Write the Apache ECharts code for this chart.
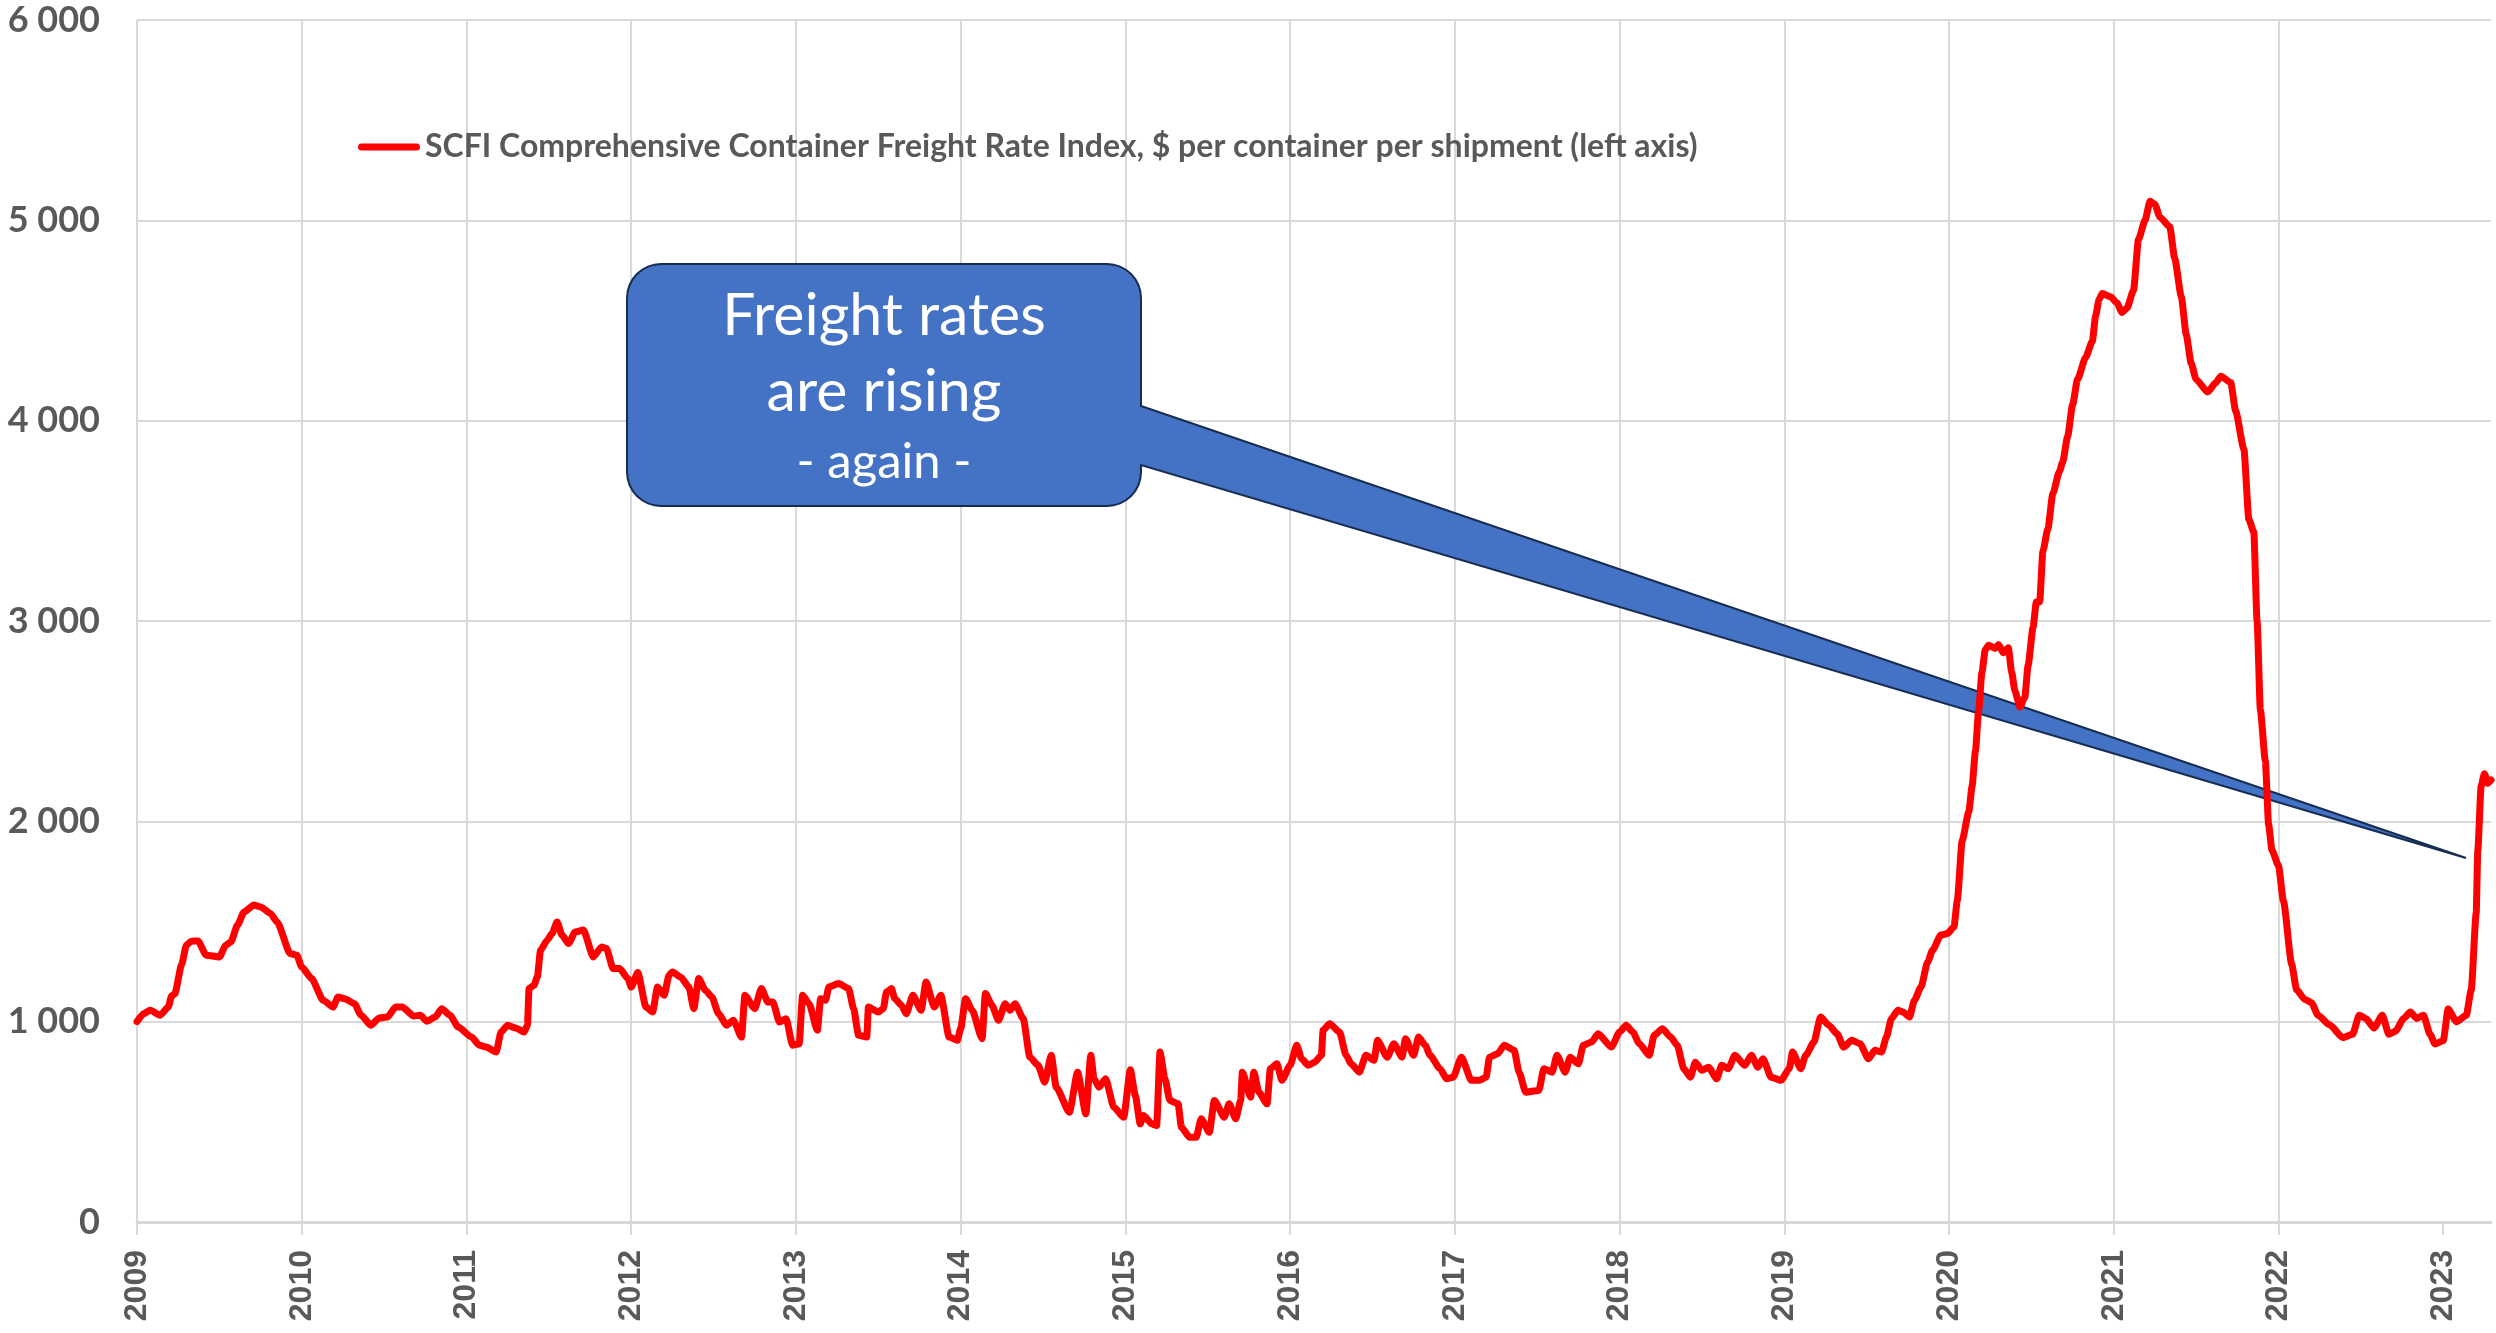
<!DOCTYPE html>
<html>
<head>
<meta charset="utf-8">
<title>SCFI freight rate index</title>
<script src="https://cdn.jsdelivr.net/npm/echarts@6/dist/echarts.min.js"></script>
<style>
  html, body { margin: 0; padding: 0; background: #fff; }
  #chart { width: 2496px; height: 1333px; }
</style>
</head>
<body>
<div id="chart"></div>
<script>
// year ticks on the x axis
var yearTicks = [2009, 2010, 2011, 2012, 2013, 2014, 2015, 2016, 2017, 2018, 2019, 2020, 2021, 2022, 2023];
var lastWeek = 2023.29;
var yMin = 0, yMax = 6000, yStep = 1000;

var legendLabel = 'SCFI Comprehensive Container Freight Rate Index, $ per container per shipment (left axis)';
var calloutLines = ['Freight rates', 'are rising', '- again -'];

// [year (decimal), $ per container]
var scfiPoints = [
  [2009.00,1000],[2009.04,1040],[2009.08,1057],[2009.14,1032],[2009.19,1073],[2009.21,1128],[2009.23,1140],
  [2009.27,1282],[2009.30,1382],[2009.33,1402],[2009.37,1403],[2009.42,1332],[2009.50,1323],[2009.54,1382],
  [2009.57,1398],[2009.61,1482],[2009.65,1548],[2009.71,1582],[2009.75,1573],[2009.81,1540],[2009.85,1498],
  [2009.93,1340],[2009.97,1332],
  [2010.00,1273],[2010.06,1215],[2010.13,1107],[2010.19,1073],[2010.22,1123],[2010.26,1115],[2010.32,1090],
  [2010.36,1032],[2010.42,982],[2010.47,1018],[2010.52,1023],[2010.57,1073],[2010.61,1073],[2010.68,1028],
  [2010.72,1032],[2010.76,1002],[2010.81,1023],[2010.85,1065],[2010.90,1032],[2010.95,973],
  [2011.03,923],[2011.08,882],[2011.12,873],[2011.18,848],[2011.21,948],[2011.25,982],[2011.30,968],
  [2011.35,948],[2011.37,982],[2011.38,1165],[2011.41,1182],[2011.43,1223],[2011.45,1357],[2011.49,1407],
  [2011.52,1440],[2011.55,1498],[2011.58,1432],[2011.62,1390],[2011.66,1448],[2011.71,1457],[2011.77,1323],
  [2011.82,1373],[2011.85,1365],[2011.89,1265],[2011.93,1265],[2011.98,1215],
  [2012.00,1173],[2012.04,1245],[2012.09,1073],[2012.13,1048],[2012.16,1173],[2012.20,1132],[2012.23,1232],
  [2012.25,1248],[2012.30,1223],[2012.35,1173],[2012.38,1065],[2012.41,1215],[2012.45,1157],[2012.49,1123],
  [2012.53,1040],[2012.58,982],[2012.62,1007],[2012.67,923],[2012.69,1132],[2012.75,1065],[2012.79,1165],
  [2012.83,1098],[2012.86,1098],[2012.90,998],[2012.94,1015],[2012.98,882],
  [2013.02,890],[2013.04,1132],[2013.08,1090],[2013.13,957],[2013.15,1115],[2013.18,1107],[2013.20,1173],
  [2013.26,1190],[2013.32,1165],[2013.35,1065],[2013.38,932],[2013.43,923],[2013.44,1073],[2013.50,1048],
  [2013.53,1065],[2013.55,1148],[2013.58,1165],[2013.60,1115],[2013.64,1082],[2013.67,1040],[2013.71,1132],
  [2013.76,1057],[2013.79,1198],[2013.84,1073],[2013.88,1132],[2013.93,923],[2013.98,907],
  [2014.00,965],[2014.03,1115],[2014.07,1057],[2014.13,915],[2014.15,1140],[2014.19,1082],[2014.23,1007],
  [2014.27,1090],[2014.30,1057],[2014.33,1090],[2014.38,1015],[2014.42,823],[2014.47,782],[2014.51,698],
  [2014.55,832],[2014.58,673],[2014.66,548],[2014.71,748],[2014.76,540],[2014.79,832],[2014.81,715],
  [2014.84,673],[2014.88,715],[2014.93,573],[2014.99,523],
  [2015.03,760],[2015.06,632],[2015.09,490],[2015.11,532],[2015.16,490],[2015.19,482],[2015.21,848],
  [2015.24,715],[2015.27,607],[2015.32,590],[2015.34,473],[2015.39,423],[2015.43,423],[2015.46,515],
  [2015.51,448],[2015.54,607],[2015.60,523],[2015.63,590],[2015.67,515],[2015.70,607],[2015.71,748],
  [2015.76,623],[2015.78,748],[2015.81,648],[2015.86,590],[2015.88,765],[2015.92,790],[2015.95,707],
  [2016.00,782],[2016.04,882],[2016.07,815],[2016.11,782],[2016.15,798],[2016.19,832],[2016.20,957],
  [2016.24,990],[2016.30,948],[2016.34,832],[2016.37,790],[2016.42,748],[2016.46,832],[2016.51,807],
  [2016.53,907],[2016.59,823],[2016.63,890],[2016.68,823],[2016.70,915],[2016.75,832],[2016.78,923],
  [2016.82,882],[2016.85,832],[2016.91,765],[2016.95,715],[2016.99,723],
  [2017.04,823],[2017.10,707],[2017.15,707],[2017.19,723],[2017.21,823],[2017.26,840],[2017.30,882],
  [2017.36,857],[2017.39,748],[2017.43,648],[2017.51,657],[2017.54,765],[2017.59,748],[2017.62,832],
  [2017.67,748],[2017.70,823],[2017.75,790],[2017.78,882],[2017.83,898],[2017.87,940],[2017.95,873],
  [2018.00,948],[2018.04,982],[2018.08,948],[2018.12,890],[2018.18,832],[2018.21,932],[2018.26,965],
  [2018.31,923],[2018.35,882],[2018.39,765],[2018.43,723],[2018.46,798],[2018.50,757],[2018.54,773],
  [2018.59,715],[2018.62,782],[2018.66,765],[2018.70,832],[2018.76,782],[2018.80,832],[2018.84,773],
  [2018.87,815],[2018.92,723],[2018.98,707],
  [2019.03,765],[2019.05,848],[2019.10,765],[2019.13,832],[2019.18,898],[2019.22,1023],[2019.27,982],
  [2019.32,940],[2019.36,873],[2019.41,907],[2019.46,890],[2019.51,815],[2019.55,857],[2019.59,848],
  [2019.62,923],[2019.65,1015],[2019.69,1057],[2019.72,1048],[2019.76,1023],[2019.79,1107],[2019.83,1173],
  [2019.87,1298],[2019.90,1357],[2019.95,1432],[2019.99,1440],
  [2020.03,1473],[2020.05,1603],[2020.08,1905],[2020.12,2048],[2020.14,2175],[2020.16,2349],[2020.18,2556],
  [2020.20,2746],[2020.22,2857],[2020.24,2879],[2020.28,2863],[2020.30,2883],[2020.33,2841],[2020.36,2867],
  [2020.38,2746],[2020.40,2651],[2020.43,2571],[2020.46,2619],[2020.48,2778],[2020.51,2968],[2020.53,3095],
  [2020.55,3095],[2020.57,3349],[2020.60,3460],[2020.63,3635],[2020.67,3746],[2020.69,3794],[2020.72,3921],
  [2020.75,4079],[2020.78,4206],[2020.83,4317],[2020.87,4397],[2020.89,4524],[2020.91,4603],[2020.93,4635],
  [2020.98,4619],
  [2021.02,4587],[2021.05,4540],[2021.08,4562],[2021.12,4651],[2021.15,4905],[2021.19,5000],[2021.22,5095],
  [2021.25,5079],[2021.28,5016],[2021.34,4968],[2021.37,4810],[2021.41,4619],[2021.44,4429],[2021.47,4286],
  [2021.50,4206],[2021.57,4143],[2021.62,4190],[2021.65,4222],[2021.71,4190],[2021.74,4048],[2021.79,3857],
  [2021.82,3508],[2021.85,3444],[2021.87,3000],[2021.89,2556],[2021.92,2302],[2021.94,1984],[2021.96,1857],
  [2022.00,1778],[2022.03,1603],[2022.08,1286],[2022.11,1159],[2022.16,1111],[2022.20,1095],[2022.24,1032],
  [2022.31,984],[2022.39,921],[2022.45,937],[2022.49,1032],[2022.53,1016],[2022.58,968],[2022.63,1032],
  [2022.67,937],[2022.71,952],[2022.76,1016],[2022.80,1048],[2022.84,1016],[2022.88,1032],[2022.92,937],
  [2022.95,889],
  [2023.00,905],[2023.03,1063],[2023.08,1000],[2023.14,1032],[2023.17,1159],[2023.20,1540],[2023.21,1857],
  [2023.23,2175],[2023.25,2238],[2023.27,2190],[2023.29,2206]
];

var gridColor = '#d9d9d9';
var textGrey = '#595959';

function spaceThousands(v) {
  return String(v).replace(/\B(?=(\d{3})+(?!\d))/g, ' ');
}

// callout box (rounded) with a wedge pointing at the latest rise
var box = { l: 627, r: 1141, t: 264, b: 506, rad: 34 };
var wedge = { y1: 406, y2: 465, tipX: 2466, tipY: 858 };

function corner(pts, cx, cy, a0) {
  for (var k = 0; k <= 8; k++) {
    var a = (a0 + k * 90 / 8) * Math.PI / 180;
    pts.push([cx + box.rad * Math.cos(a), cy + box.rad * Math.sin(a)]);
  }
}
var calloutPts = [];
corner(calloutPts, box.r - box.rad, box.t + box.rad, 270);
calloutPts.push([box.r, wedge.y1], [wedge.tipX, wedge.tipY], [box.r, wedge.y2]);
corner(calloutPts, box.r - box.rad, box.b - box.rad, 0);
corner(calloutPts, box.l + box.rad, box.b - box.rad, 90);
corner(calloutPts, box.l + box.rad, box.t + box.rad, 180);

var textCx = (box.l + box.r) / 2;
var calloutFonts = ['normal 59px Lato', 'normal 59px Lato', 'normal 49px Lato'];
var calloutY = [316, 392, 462];

var graphics = [{
  type: 'polygon',
  z: 5,
  shape: { points: calloutPts },
  style: { fill: '#4472c4', stroke: '#172c51', lineWidth: 2 }
}];
calloutLines.forEach(function (line, i) {
  graphics.push({
    type: 'text',
    z: 6,
    x: textCx,
    y: calloutY[i],
    style: {
      text: line,
      fill: '#ffffff',
      font: calloutFonts[i],
      textAlign: 'center',
      textVerticalAlign: 'middle'
    }
  });
});

var chart = echarts.init(document.getElementById('chart'));
chart.setOption({
  animation: false,
  backgroundColor: '#ffffff',
  grid: { left: 137, right: 5, top: 20, bottom: 111 },
  legend: {
    data: [legendLabel],
    left: 353,
    top: 126,
    itemWidth: 62,
    itemHeight: 7,
    icon: 'path://M3.5 0H58.5A3.5 3.5 0 0 1 58.5 7H3.5A3.5 3.5 0 0 1 3.5 0Z',
    textStyle: { color: textGrey, fontFamily: 'Lato', fontWeight: 'bold', fontSize: 32 }
  },
  xAxis: {
    type: 'value',
    min: yearTicks[0],
    max: lastWeek,
    interval: 1,
    axisLine: { show: true, lineStyle: { color: gridColor, width: 3 } },
    axisTick: { show: true, length: 13, customValues: yearTicks, lineStyle: { color: gridColor, width: 2 } },
    splitLine: { show: true, showMaxLine: false, lineStyle: { color: gridColor, width: 2 } },
    axisLabel: {
      customValues: yearTicks,
      rotate: 90,
      margin: 28,
      color: textGrey,
      fontFamily: 'Liberation Sans',
      fontWeight: 'bold',
      fontSize: 32,
      formatter: function (v) { return String(Math.round(v)); }
    }
  },
  yAxis: {
    type: 'value',
    min: yMin,
    max: yMax,
    interval: yStep,
    axisLine: { show: false },
    axisTick: { show: false },
    splitLine: { show: true, lineStyle: { color: gridColor, width: 2 } },
    axisLabel: {
      margin: 37,
      color: textGrey,
      fontFamily: 'Lato',
      fontWeight: 'bold',
      fontSize: 36,
      formatter: spaceThousands
    }
  },
  series: [{
    name: legendLabel,
    type: 'line',
    z: 10,
    data: scfiPoints,
    showSymbol: false,
    symbol: 'none',
    smooth: 0.2,
    smoothMonotone: 'x',
    color: '#ff0000',
    lineStyle: { color: '#ff0000', width: 7, cap: 'round', join: 'round' }
  }],
  graphic: graphics
});
</script>
</body>
</html>
